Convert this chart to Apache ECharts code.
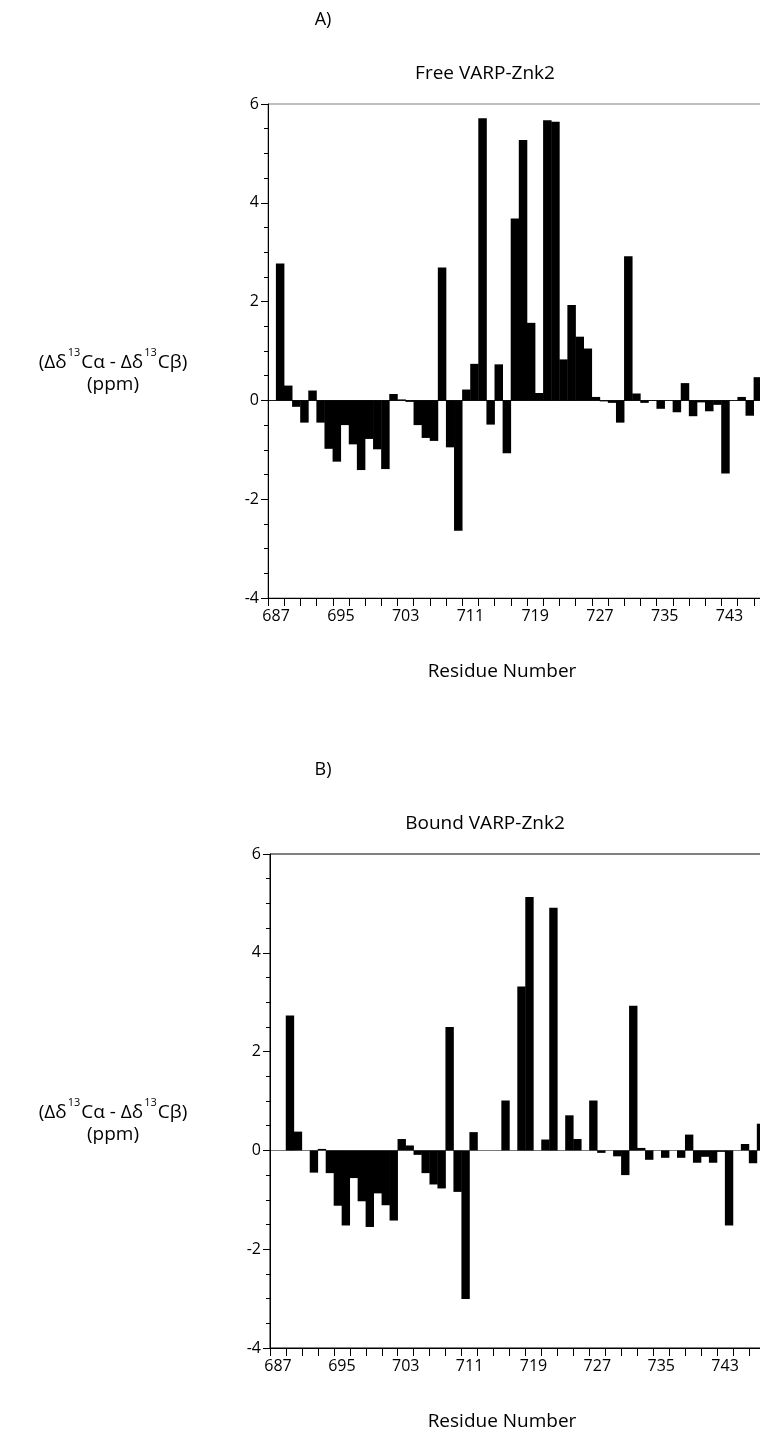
<!DOCTYPE html>
<html>
<head>
<meta charset="utf-8">
<title>VARP-Znk2 secondary chemical shifts</title>
<script src="https://cdn.jsdelivr.net/npm/echarts@6/dist/echarts.min.js"></script>
<style>
  html, body { margin: 0; padding: 0; background: #fff; }
  #chart { width: 760px; height: 1438px; }
</style>
</head>
<body>
<div id="chart"></div>
<script>
// Residue numbers of the free domain and its (Δδ13Cα − Δδ13Cβ) values, ppm
const freeResidues = [
  687, 688, 689, 690, 691, 692, 693, 694, 695, 696, 697, 698, 699, 700, 701,
  702, 703, 704, 705, 706, 707, 708, 709, 710, 711, 712, 713, 714, 715, 716,
  717, 718, 719, 720, 721, 722, 723, 724, 725, 726, 727, 728, 729, 730, 731,
  732, 733, 734, 735, 736, 737, 738, 739, 740, 741, 742, 743, 744, 745, 746
];
const freeShift = [
  2.77, 0.30, -0.13, -0.45, 0.20, -0.45, -0.98, -1.24, -0.50, -0.89, -1.41, -0.78, -0.99, -1.39, 0.13,
  0.02, -0.03, -0.50, -0.76, -0.82, 2.69, -0.95, -2.64, 0.22, 0.74, 5.71, -0.49, 0.73, -1.07, 3.68,
  5.27, 1.57, 0.15, 5.67, 5.64, 0.83, 1.93, 1.29, 1.05, 0.07, -0.02, -0.05, -0.45, 2.92, 0.14,
  -0.05, -0.01, -0.17, 0.00, -0.24, 0.35, -0.32, -0.04, -0.22, -0.09, -1.48, 0.00, 0.07, -0.31, 0.47
];

// Bound domain; null where no value was assigned
const boundResidues = [
  688, 689, 690, 691, 692, 693, 694, 695, 696, 697, 698, 699, 700, 701, 702,
  703, 704, 705, 706, 707, 708, 709, 710, 711, 712, 713, 714, 715, 716, 717,
  718, 719, 720, 721, 722, 723, 724, 725, 726, 727, 728, 729, 730, 731, 732,
  733, 734, 735, 736, 737, 738, 739, 740, 741, 742, 743, 744, 745, 746, 747
];
const boundShift = [
  2.73, 0.38, null, -0.45, 0.03, -0.46, -1.12, -1.52, -0.56, -1.03, -1.55, -0.87, -1.11, -1.42, 0.23,
  0.10, -0.09, -0.46, -0.69, -0.77, 2.50, -0.84, -3.01, 0.37, null, null, null, 1.01, null, 3.32,
  5.13, null, 0.22, 4.91, null, 0.71, 0.23, null, 1.01, -0.05, null, -0.12, -0.50, 2.93, 0.05,
  -0.19, null, -0.15, null, -0.15, 0.32, -0.25, -0.13, -0.25, -0.03, -1.52, null, 0.13, -0.26, 0.54
];

// Residue-axis labels and the shift-axis ticks
const residueTickLabels = ['687', '695', '703', '711', '719', '727', '735', '743'];
const shiftTicks = [-4, -2, 0, 2, 4, 6];

const FONT = '"Open Sans", "DejaVu Sans", sans-serif';
const INK = '#000';
const X_MIN = 686, X_MAX = 748;
const PLOT_H = 494;

const panels = [
  { residues: freeResidues, values: freeShift, title: 'Free VARP-Znk2', tag: 'A)',
    top: 104, left: 268, width: 502, frame: '#7f7f7f', zero: '#1a1a1a' },
  { residues: boundResidues, values: boundShift, title: 'Bound VARP-Znk2', tag: 'B)',
    top: 854, left: 270, width: 495, frame: '#000000', zero: '#7a7a7a' }
];

const grid = [], xAxis = [], yAxis = [], series = [], graphic = [];

panels.forEach((p, i) => {
  const pxPerResidue = p.width / (X_MAX - X_MIN);

  grid.push({
    left: p.left, top: p.top, width: p.width, height: PLOT_H,
    show: true, borderColor: p.frame, borderWidth: 1,
    backgroundColor: 'transparent', containLabel: false, outerBoundsMode: 'none'
  });

  // tick marks every two residues
  xAxis.push({
    type: 'value', gridIndex: i, position: 'bottom',
    min: X_MIN, max: X_MAX, interval: 2,
    axisLine: { show: true, onZero: false, lineStyle: { color: INK, width: 1 } },
    axisTick: { show: true, inside: false, length: 8, lineStyle: { color: INK, width: 1 } },
    axisLabel: { show: false },
    splitLine: { show: false }
  });
  // residue numbers
  xAxis.push({
    type: 'value', gridIndex: i, position: 'bottom',
    min: X_MIN, max: X_MAX, interval: 1,
    axisLine: { show: false, onZero: false },
    axisTick: { show: false },
    splitLine: { show: false },
    axisLabel: {
      show: true, margin: 10, color: INK, fontFamily: FONT, fontSize: 16,
      showMinLabel: true, showMaxLabel: true,
      formatter: v => residueTickLabels.indexOf(String(v)) >= 0 ? String(v) : ''
    }
  });

  yAxis.push({
    type: 'value', gridIndex: i,
    min: shiftTicks[0], max: shiftTicks[shiftTicks.length - 1], interval: 2,
    axisLine: { show: true, onZero: false, lineStyle: { color: INK, width: 1 } },
    axisTick: { show: true, inside: false, length: 7, lineStyle: { color: INK, width: 1 } },
    minorTick: { show: true, splitNumber: 4, length: 4, lineStyle: { color: INK, width: 1 } },
    minorSplitLine: { show: false },
    axisLabel: { show: true, margin: 9, color: INK, fontFamily: FONT, fontSize: 16 },
    // only the zero baseline is drawn across the plot
    splitLine: {
      show: true,
      lineStyle: { width: 1, color: shiftTicks.map(t => t === 0 ? p.zero : 'rgba(0,0,0,0)') }
    }
  });

  series.push({
    type: 'bar',
    xAxisIndex: i * 2, yAxisIndex: i,
    // neighbouring bars touch, so let them overlap by a fraction of a pixel
    barWidth: pxPerResidue + 0.4,
    itemStyle: { color: INK },
    emphasis: { disabled: true },
    animation: false,
    data: p.residues.map((r, k) => [r + 0.5, p.values[k]])
  });

  const dy = p.top - 104;
  const txt = (x, y, text, size) => ({
    type: 'text', x: x, y: y + dy, silent: true,
    style: { text: text, fill: INK, fontFamily: FONT, fontSize: size, align: 'center', verticalAlign: 'middle' }
  });
  graphic.push(txt(323, 20, p.tag, 18));
  graphic.push(txt(485, 74, p.title, 19));
  graphic.push(txt(502, 672, 'Residue Number', 19));
  graphic.push(txt(113, 385, '(ppm)', 19));
  graphic.push({
    type: 'text', x: 113, y: 360 + dy, silent: true,
    style: {
      text: '{n|(Δδ}{s|13}{n|Cα - Δδ}{s|13}{n|Cβ)}',
      fill: INK, align: 'center', verticalAlign: 'middle',
      fontFamily: FONT, fontSize: 19,
      rich: {
        n: { fontFamily: FONT, fontSize: 19, lineHeight: 25, verticalAlign: 'bottom', fill: INK, padding: [0, 1, 0, 1] },
        s: { fontFamily: FONT, fontSize: 11, lineHeight: 14, verticalAlign: 'top', fill: INK }
      }
    }
  });
});

const chart = echarts.init(document.getElementById('chart'), null, { renderer: 'canvas' });
chart.setOption({
  backgroundColor: '#ffffff',
  animation: false,
  grid: grid,
  xAxis: xAxis,
  yAxis: yAxis,
  series: series,
  graphic: graphic
});
</script>
</body>
</html>
